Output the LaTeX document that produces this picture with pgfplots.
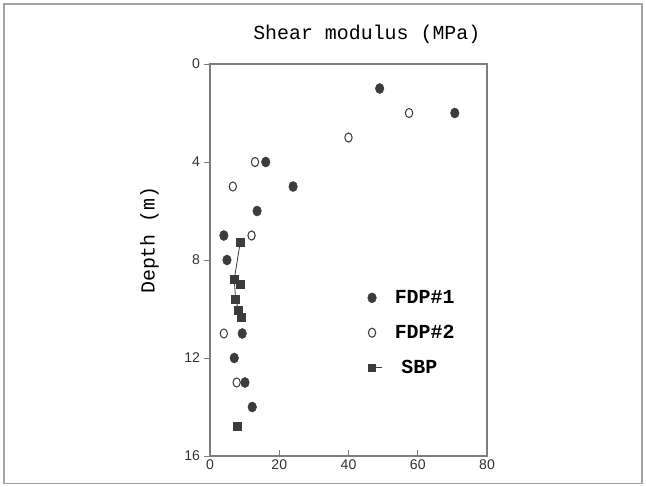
\documentclass[border=0pt]{standalone}
\usepackage{fontspec}
\setmainfont{Liberation Sans}
\newfontfamily\cour{Liberation Mono}
\usepackage{pgfplots}
\pgfplotsset{compat=1.18}
\definecolor{mk}{RGB}{60,60,60}
\definecolor{ax}{RGB}{125,125,125}

% 1 px of the reference = 0.03cm
\begin{document}
\begin{tikzpicture}
\useasboundingbox (0,0) rectangle (19.38,14.58);
\draw[ax!70, line width=1pt] (0.12,0.08) rectangle (19.26,14.46);
\begin{axis}[
  at={(6.30cm,0.90cm)}, anchor=south west,
  width=8.31cm, height=11.76cm, scale only axis,
  xmin=0, xmax=80, ymin=0, ymax=16,
  y dir=reverse,
  xtick={0,20,40,60,80}, ytick={0,4,8,12,16},
  xtick pos=bottom, ytick pos=left,
  xtick align=inside, ytick align=outside,
  major tick length=5pt,
  axis line style={ax, line width=1.2pt},
  tick style={ax, line width=0.8pt},
  tick label style={font=\fontsize{12}{14}\selectfont, text=black!80},
  /pgf/number format/assume math mode=true,
  title={\cour\fontsize{17}{20}\selectfont Shear modulus (MPa)},
  title style={yshift=8pt, xshift=0.55cm},
  ylabel={\cour\fontsize{17}{20}\selectfont Depth (m)},
  ylabel style={yshift=15pt, xshift=17pt},
  legend style={draw=none, fill=none, at={(0.556,0.435)}, anchor=north west,
    font=\cour\bfseries\fontsize{17}{20}\selectfont, row sep=13pt},
  legend cell align=left,
]
\addplot[only marks, mark=*, mark size=4.3pt, color=mk, mark options={xscale=0.85}]
  coordinates {(49,1) (70.7,2) (16.1,4) (24,5) (13.6,6) (4,7) (4.9,8)
               (9.3,11) (7,12) (10.1,13) (12.2,14)};
\addlegendentry{\hspace{0.3cm}FDP\#1}
\addplot[only marks, mark=o, mark size=3.9pt, color=mk, mark options={xscale=0.8, line width=0.9pt}]
  coordinates {(57.5,2) (40,3) (13,4) (6.6,5) (12,7) (4,11) (7.7,13)};
\addlegendentry{\hspace{0.3cm}FDP\#2}
\addplot[color=mk, line width=0.7pt, mark=square*, mark size=3.4pt,
  legend image code/.code={
    \draw[mk, line width=0.7pt] (0.3cm,0cm) -- (0.6cm,0cm);
    \fill[mk] (0.19cm,-0.11cm) rectangle (0.41cm,0.11cm);}]
  coordinates {(8.7,7.3) (7.0,8.8) (7.4,9.6) (8.2,10.05) (9.2,10.35)};
\addlegendentry{\hspace{0.5cm}SBP}
\addplot[only marks, mark=square*, mark size=3.4pt, color=mk, forget plot]
  coordinates {(8.8,9.0) (7.9,14.8)};
\end{axis}
\end{tikzpicture}
\end{document}
